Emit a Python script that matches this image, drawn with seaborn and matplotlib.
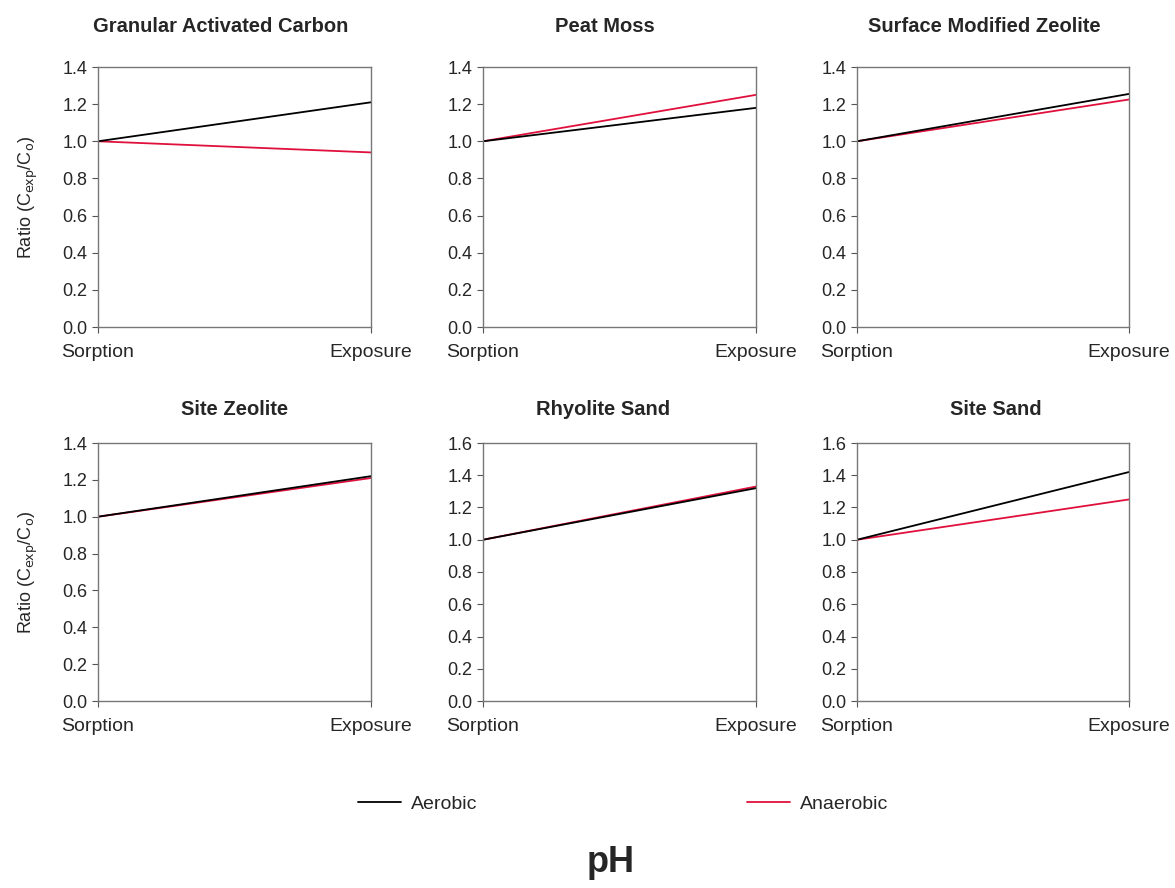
import pandas as pd
import matplotlib.pyplot as plt
import seaborn as sns
from matplotlib.lines import Line2D

stages = ['Sorption', 'Exposure']
materials = ['Granular Activated Carbon', 'Peat Moss', 'Surface Modified Zeolite',
             'Site Zeolite', 'Rhyolite Sand', 'Site Sand']
aerobic = [1.21, 1.18, 1.255, 1.22, 1.32, 1.42]
anaerobic = [0.94, 1.25, 1.225, 1.21, 1.33, 1.25]
ymax = [1.4, 1.4, 1.4, 1.4, 1.6, 1.6]

rows = []
for m, a, b in zip(materials, aerobic, anaerobic):
    rows.append([m, 'Aerobic', 'Sorption', 1.0])
    rows.append([m, 'Aerobic', 'Exposure', a])
    rows.append([m, 'Anaerobic', 'Sorption', 1.0])
    rows.append([m, 'Anaerobic', 'Exposure', b])
data = pd.DataFrame(rows, columns=['material', 'condition', 'stage', 'ratio'])

sns.set_style('ticks')
plt.rcParams['font.family'] = ['Liberation Sans', 'DejaVu Sans']
colors = {'Aerobic': 'black', 'Anaerobic': '#e0103c'}

fig = plt.figure(figsize=(11.75, 8.88), dpi=100)
W, H = 1175, 888
lefts = [(98, 371), (483, 756), (857, 1129)]
tops = [(67, 327), (443, 701)]
title_pad = [25, 20]
# title centres sit a little off the axes centre in the original
title_shift = [-14, -15, -9, 0, -16, 3]

for i, m in enumerate(materials):
    r, c = divmod(i, 3)
    x0, x1 = lefts[c]
    y0, y1 = tops[r]
    ax = fig.add_axes([x0 / W, 1 - y1 / H, (x1 - x0) / W, (y1 - y0) / H])
    sub = data[data['material'] == m]
    sns.lineplot(data=sub, x='stage', y='ratio', hue='condition', palette=colors,
                 hue_order=['Anaerobic', 'Aerobic'], lw=1.3, ax=ax, legend=False)
    ax.set_xlim(0, 1)
    ax.set_ylim(0, ymax[i])
    ticks = [v / 10 for v in range(0, int(round(ymax[i] * 10)) + 1, 2)]
    ax.set_yticks(ticks)
    ax.set_yticklabels([f'{t:.1f}' for t in ticks])
    ax.set_xticks([0, 1])
    ax.set_xticklabels(stages)
    ax.tick_params(axis='y', labelsize=13, length=4, color='#555555')
    ax.tick_params(axis='x', labelsize=14, length=4, pad=8, color='#555555')
    for s in ax.spines.values():
        s.set_visible(True)
        s.set_color('#777777')
        s.set_linewidth(1)
    ax.set_title(m, fontsize=14.5, fontweight='bold', pad=title_pad[r],
                 x=0.5 + title_shift[i] / (x1 - x0))
    ax.set_xlabel('')
    if c == 0:
        ax.set_ylabel(r'Ratio (C$_{\mathrm{exp}}$/C$_{\mathrm{o}}$)', fontsize=13, labelpad=16)
    else:
        ax.set_ylabel('')

entries = [('Aerobic', 'black', 358), ('Anaerobic', '#e0103c', 747)]
for label, col, xpos in entries:
    fig.legend([Line2D([], [], color=col, lw=1.3)], [label], loc='center left',
               bbox_to_anchor=(xpos / W, 1 - 804 / H), frameon=False, fontsize=14,
               handlelength=2.2, handletextpad=0.5, borderpad=0, borderaxespad=0)
fig.text(0.52, 1 - 862 / H, 'pH', ha='center', va='center', fontsize=26, fontweight='bold')

fig.savefig('out.png', dpi=100)
